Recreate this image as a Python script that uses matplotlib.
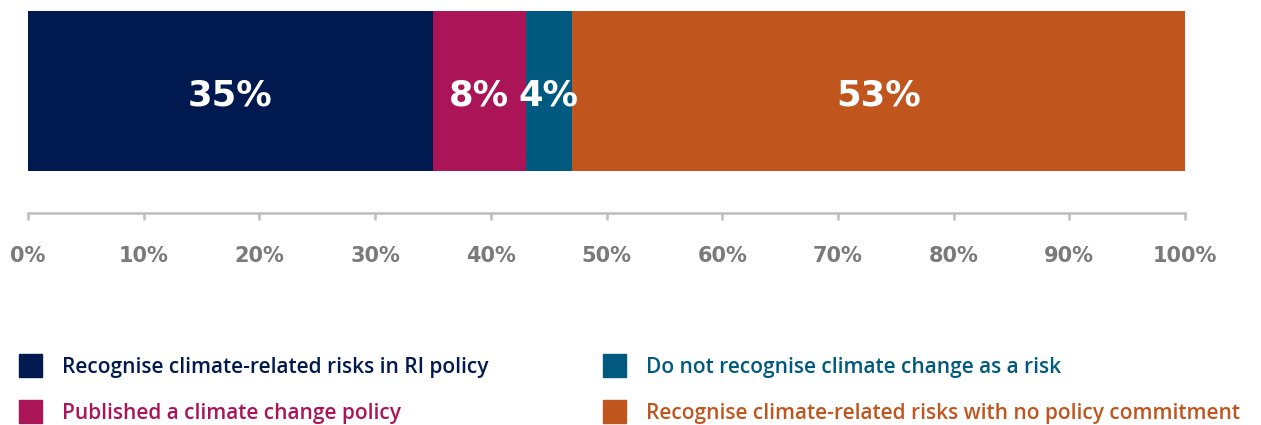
import matplotlib.pyplot as plt
from matplotlib.patches import Rectangle

# data
categories = ["Recognise climate-related risks in RI policy",
              "Published a climate change policy",
              "Do not recognise climate change as a risk",
              "Recognise climate-related risks with no policy commitment"]
values = [35, 8, 4, 53]
colors = ["#001A4F", "#AB1558", "#005A80", "#C0561E"]
ticks = list(range(0, 101, 10))
tick_labels = [f"{t}%" for t in ticks]

W, H = 1261, 425
fig = plt.figure(figsize=(W / 100, H / 100), dpi=100)

# axes spans from bar top (y=11) to axis line (y=213)
ax = fig.add_axes([28 / W, 1 - 213 / H, (1185 - 28) / W, 202 / H])
ax.set_xlim(0, 100)
ax.set_ylim(0, 202)

left = 0
for v, c in zip(values, colors):
    ax.barh(122, v, left=left, height=160, color=c, edgecolor='none')
    ax.text(left + v / 2, 117, f"{v}%", ha='center', va='center',
            color='white', fontsize=25.5, fontweight='heavy', family='DejaVu Sans')
    left += v

for s in ['top', 'right', 'left']:
    ax.spines[s].set_visible(False)
ax.spines['bottom'].set_color('#BDBDBD')
ax.spines['bottom'].set_linewidth(1.8)
ax.set_yticks([])
ax.set_xticks(ticks)
ax.set_xticklabels(tick_labels)
ax.tick_params(axis='x', direction='out', length=5, width=1.8, color='#BDBDBD',
               pad=18.5, labelsize=15, labelcolor='#7A7A7A')
for lab in ax.get_xticklabels():
    lab.set_fontweight('bold')

# legend, drawn by hand
leg_pos = [(19, 365), (19, 411), (603, 365), (603, 411)]
for (x, y), c, name in zip(leg_pos, colors, categories):
    fig.add_artist(Rectangle((x / W, 1 - (y + 11.5) / H), 23 / W, 23 / H,
                             transform=fig.transFigure, color=c))
    fig.text((x + 43) / W, 1 - (y + 2) / H, name, ha='left', va='center',
             color=c, fontsize=15, fontweight='semibold', family='Open Sans')

fig.savefig("out.png", dpi=100)
